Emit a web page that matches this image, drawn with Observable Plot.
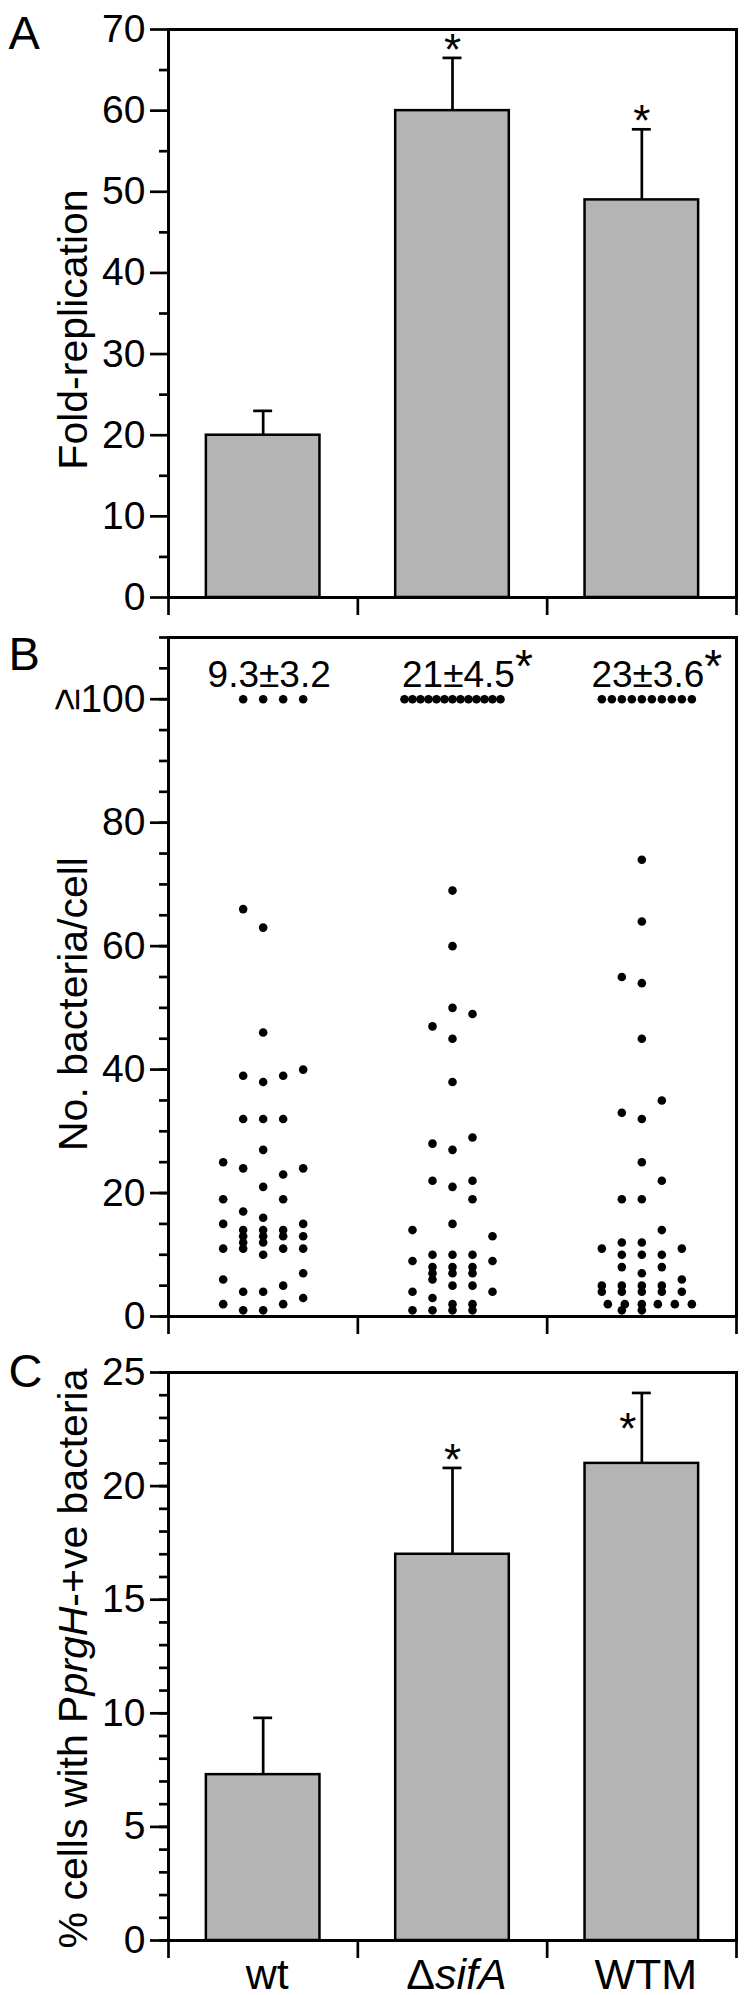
<!DOCTYPE html>
<html><head><meta charset="utf-8">
<script src="https://cdn.jsdelivr.net/npm/d3@7"></script>
<script src="https://cdn.jsdelivr.net/npm/@observablehq/plot@0.6"></script>
<style>
body{margin:0;background:#fff;}
#chart svg{display:block;}
</style></head><body><div id="chart"></div>
<script>
// ---------- data ----------
const groups = ["wt", "ΔsifA", "WTM"];

// Panel A: fold-replication (mean, top of error bar)
const foldMean = [20, 60, 49];
const foldErrTop = [23, 66.5, 57.7];
const foldSig = [false, true, true];
const foldTicks = [0, 10, 20, 30, 40, 50, 60, 70];

// Panel B: bacteria per cell, dots listed per sub-column (lane) of each group
const wtLanes = [
  [-2, [25, 19, 15, 11, 6, 2]],
  [-1, [66, 39, 32, 24, 17, 14, 13, 12, 11, 4, 1]],
  [0, [63, 46, 38, 32, 27, 21, 16, 14, 13, 12, 10, 4, 1]],
  [1, [39, 32, 23, 19, 14, 13, 11, 5, 2]],
  [2, [40, 24, 15, 13, 11, 7, 3]]
];
const sifALanes = [
  [-2, [14, 9, 4, 1]],
  [-1, [47, 28, 22, 10, 8, 7, 6, 3, 1]],
  [0, [69, 60, 50, 45, 38, 27, 21, 15, 10, 8, 7, 5, 2, 1]],
  [1, [49, 29, 22, 19, 10, 8, 7, 5, 2, 1]],
  [2, [13, 9, 4]]
];
const wtmLanes = [
  [-2, [11, 5, 4]],
  [-1, [55, 33, 19, 12, 10, 8, 5, 4, 1]],
  [0, [74, 64, 54, 45, 32, 25, 19, 12, 10, 7, 5, 4, 2, 1]],
  [1, [35, 22, 14, 10, 8, 5, 4]],
  [2, [11, 6, 4]],
  [-1.7, [2]], [-0.85, [2]], [0.8, [2]], [1.65, [2]], [2.5, [2]]
];
const over100Count = [4, 13, 10];   // cells with >=100 bacteria
const over100Start = [-1, -2.4, -2];
const over100Step = [1, 0.4, 0.5];
const countLabels = ["9.3±3.2", "21±4.5", "23±3.6"];
const countSig = [false, true, true];
const countTicks = [0, 20, 40, 60, 80, 100];

// Panel C: % cells with PprgH-+ve bacteria
const prgMean = [7.3, 17, 21];
const prgErrTop = [9.8, 20.8, 24.1];
const prgSig = [false, true, true];
const prgTicks = [0, 5, 10, 15, 20, 25];

// ---------- layout ----------
const W = 749, ML = 168, MR = 13;
const FONT = "'Liberation Sans', Arial, Helvetica, sans-serif";
const SW = 2.7;
const pxPerUnit = (W - ML - MR) / 3;
const laneW = 20 / pxPerUnit;
const idx = groups.map((_, i) => i);
const SVGNS = "http://www.w3.org/2000/svg";

function baseMarks({major, minor, fmt, letter, letterDy, ylabel, ylabelDy}) {
  return [
    Plot.frame({stroke: "black", strokeWidth: 3}),
    Plot.axisY({ticks: minor, tickSize: 9, strokeWidth: SW, tickFormat: () => "", label: null}),
    Plot.axisY({ticks: major, tickSize: 18, tickPadding: 5, strokeWidth: SW, fontSize: 39, tickFormat: fmt, label: null}),
    Plot.axisX({ticks: [0, 1, 2, 3], tickSize: 18, strokeWidth: SW, tickFormat: () => "", label: null}),
    Plot.text([letter], {frameAnchor: "top-left", textAnchor: "start", lineAnchor: "bottom", dx: -160, dy: letterDy, fontSize: 47}),
    Plot.text([ylabel], {frameAnchor: "left", rotate: -90, textAnchor: "middle", lineAnchor: "bottom", dx: -82, dy: ylabelDy, fontSize: 41})
  ];
}

function barMarks(mean, errTop) {
  const data = idx.map(i => ({i, mean: mean[i], top: errTop[i]}));
  return [
    Plot.rect(data, {x1: d => d.i + 0.2, x2: d => d.i + 0.8, y1: 0, y2: "mean", fill: "#b4b4b4", stroke: "black", strokeWidth: 2.5}),
    Plot.ruleX(data, {x: d => d.i + 0.5, y1: "mean", y2: "top", stroke: "black", strokeWidth: SW}),
    Plot.ruleY(data, {y: "top", x1: d => d.i + 0.45, x2: d => d.i + 0.55, stroke: "black", strokeWidth: SW})
  ];
}

function styleOpts(height, mt, mb, ymax) {
  return {
    width: W, height, marginLeft: ML, marginRight: MR, marginTop: mt, marginBottom: mb,
    style: {fontFamily: FONT, color: "black", background: "white", overflow: "visible"},
    x: {domain: [0, 3], axis: null},
    y: {domain: [0, ymax], axis: null}
  };
}

// Panel A
const aData = idx.map(i => ({i, top: foldErrTop[i], sig: foldSig[i]}));
const plotA = Plot.plot({
  ...styleOpts(620, 29, 23, 70),
  marks: [
    ...barMarks(foldMean, foldErrTop),
    Plot.text(aData.filter(d => d.sig), {x: d => d.i + 0.5, y: "top", text: () => "*", lineAnchor: "bottom", dy: 7, fontSize: 44}),
    ...baseMarks({major: foldTicks, minor: d3.range(5, 70, 10), fmt: d => String(d), letter: "A", letterDy: 19, ylabel: "Fold-replication", ylabelDy: 16})
  ]
});

// Panel B
const laneSets = [wtLanes, sifALanes, wtmLanes];
const dots = [];
laneSets.forEach((lanes, g) => lanes.forEach(([lane, vals]) => vals.forEach(v => dots.push({g, lane, v}))));
over100Count.forEach((n, g) => { for (let k = 0; k < n; k++) dots.push({g, lane: over100Start[g] + k * over100Step[g], v: 100}); });

const ctx = document.createElement("canvas").getContext("2d");
ctx.font = `37px ${FONT}`;
const labelW = countLabels.map(s => ctx.measureText(s).width);
const bLab = idx.map(i => ({i, text: countLabels[i], sig: countSig[i], w: labelW[i]}));

const plotB = Plot.plot({
  ...styleOpts(720, 17, 24, 110),
  marks: [
    Plot.dot(dots, {x: d => d.g + 0.5 + d.lane * laneW, y: "v", r: 4.3, fill: "black"}),
    Plot.text(bLab, {x: d => d.i + 0.5, y: () => 100, text: "text", lineAnchor: "bottom", dx: 6, dy: -12, fontSize: 37}),
    Plot.text(bLab.filter(d => d.sig), {x: d => d.i + 0.5 + (6 + d.w / 2) / pxPerUnit, y: () => 100, text: () => "*", textAnchor: "start", lineAnchor: "bottom", dy: -17, fontSize: 46}),
    // the "≥" of the top tick label sits rotated, in line with the axis title
    Plot.text(["≥"], {frameAnchor: "left", y: () => 100, rotate: -90, textAnchor: "middle", lineAnchor: "middle", dx: -102, fontSize: 40}),
    ...baseMarks({major: countTicks, minor: d3.range(0, 111, 5), fmt: d => String(d), letter: "B", letterDy: 32, ylabel: "No. bacteria/cell", ylabelDy: 27})
  ]
});

// Panel C
const cData = idx.map(i => ({i, top: prgErrTop[i], sig: prgSig[i]}));
const plotC = Plot.plot({
  ...styleOpts(655, 32, 55, 25),
  marks: [
    ...barMarks(prgMean, prgErrTop),
    Plot.text(cData.filter(d => d.sig && d.i === 1), {x: d => d.i + 0.5, y: "top", text: () => "*", lineAnchor: "bottom", dy: 7, fontSize: 44}),
    Plot.text(cData.filter(d => d.sig && d.i === 2), {x: d => d.i + 0.5, y: "top", text: () => "*", lineAnchor: "bottom", dx: -14, dy: 51, fontSize: 44}),
    Plot.text(groups, {x: (d, i) => i + 0.5, frameAnchor: "bottom", lineAnchor: "bottom", dx: 4, dy: 48, fontSize: 43}),
    ...baseMarks({major: prgTicks, minor: d3.range(0, 26, 1), fmt: d => String(d), letter: "C", letterDy: 14, ylabel: "% cells with PprgH-+ve bacteria", ylabelDy: 2})
  ]
});

// rich text (italic gene names)
function richify(svg, plain, parts) {
  for (const t of svg.querySelectorAll("text")) {
    if (t.textContent === plain) {
      t.textContent = "";
      for (const [s, it] of parts) {
        const ts = document.createElementNS(SVGNS, "tspan");
        ts.textContent = s;
        if (it) ts.setAttribute("font-style", "italic");
        t.appendChild(ts);
      }
    }
  }
}
richify(plotC, "ΔsifA", [["Δ", false], ["sifA", true]]);
richify(plotC, "% cells with PprgH-+ve bacteria", [["% cells with P", false], ["prgH", true], ["-+ve bacteria", false]]);

const root = document.getElementById("chart");
root.append(plotA, plotB, plotC);
</script></body></html>
